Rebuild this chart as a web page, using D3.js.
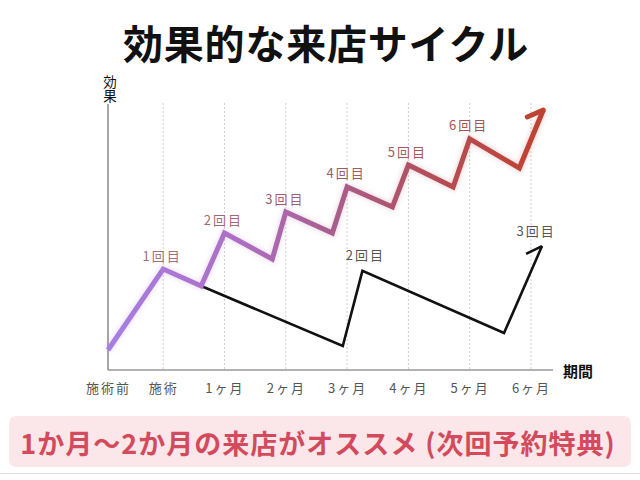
<!DOCTYPE html>
<html><head><meta charset="utf-8">
<script src="https://cdn.jsdelivr.net/npm/d3@7"></script>
<style>
body{margin:0;background:#fff;}
svg{display:block;font-family:"Noto Sans CJK JP","Noto Sans",sans-serif;}
</style></head><body>
<svg id="c" width="640" height="480"></svg>
<script>
// ---- data ----
const title = "効果的な来店サイクル";
const yLabel = ["効","果"];
const xLabel = "期間";
const tickLabels = ["施術前","施術","1ヶ月","2ヶ月","3ヶ月","4ヶ月","5ヶ月","6ヶ月"];
const tickValues = [-0.9, 0, 1, 2, 3, 4, 5, 6];
const gridValues = [0, 1, 2, 3, 4, 5, 6];
// recommended cycle (visit every 1 month)
const cycleX = [-0.9, 0, 0.62, 1, 1.78, 2, 2.76, 3, 3.74, 4, 4.73, 5, 5.81, 6.2];
const cycleY = [7.4, 37.4, 31.1, 50.7, 41.1, 58.5, 50.7, 67.8, 60.4, 75.9, 67.8, 85.6, 74.8, 96.3];
const cycleHead = [5.94, 93.7];
const cycleLabels = ["1回目","2回目","3回目","4回目","5回目","6回目"];
const cyclePeakIdx = [1, 3, 5, 7, 9, 11];
// slow cycle (visit every 3 months)
const slowX = [0.62, 2.93, 3.25, 5.56, 6.18];
const slowY = [31.1, 8.9, 36.7, 13.7, 45.9];
const slowHead = [5.92, 43.0];
const slowLabels = ["2回目","3回目"];
const slowPeakIdx = [2, 4];
const banner = "1か月〜2か月の来店がオススメ (次回予約特典)";

// ---- drawing ----
const svg = d3.select("#c");
const x = d3.scaleLinear().domain([-0.9, 6]).range([108, 531]);
const y = d3.scaleLinear().domain([0, 100]).range([370, 100]);

// title
svg.append("text").attr("x", 326).attr("y", 42)
  .attr("text-anchor","middle").attr("dominant-baseline","central")
  .attr("font-size", 40).attr("font-weight", 700).attr("fill","#111")
  .attr("letter-spacing","0.8px")
  .text(title);

// gridlines
svg.append("g").selectAll("line").data(gridValues).join("line")
  .attr("x1", d=>x(d)).attr("x2", d=>x(d))
  .attr("y1", 103).attr("y2", 370)
  .attr("stroke","#cfcfcf").attr("stroke-width",1).attr("stroke-dasharray","2,2");

// axes
const xAxis = d3.axisBottom(x).tickValues(tickValues).tickSize(0).tickFormat((d,i)=>tickLabels[i]);
const gx = svg.append("g").attr("transform","translate(0,370)").call(xAxis);
gx.select(".domain").remove();
gx.append("line").attr("x1",108).attr("x2",553).attr("y1",0).attr("y2",0)
  .attr("stroke","#999").attr("stroke-width",1.5);
gx.selectAll(".tick text").attr("dy",0).attr("y",17)
  .attr("dominant-baseline","central")
  .attr("font-size",13).attr("fill","#555").attr("letter-spacing","2px")
  .attr("font-family","\"Noto Sans CJK JP\",sans-serif");

svg.append("line").attr("x1",108).attr("x2",108).attr("y1",104).attr("y2",370)
  .attr("stroke","#888").attr("stroke-width",1.5);

// axis titles (vertical y label as one text element)
svg.append("text").attr("x",110).attr("y",89)
  .attr("writing-mode","vertical-rl").attr("text-anchor","middle")
  .attr("font-size",13.5).attr("fill","#111").text(yLabel.join(""));
svg.append("text").attr("x",578).attr("y",370)
  .attr("text-anchor","middle").attr("dominant-baseline","central")
  .attr("font-size",15).attr("font-weight",700).attr("fill","#111").text(xLabel);

// defs: gradient + glow
const defs = svg.append("defs");
const grad = defs.append("linearGradient").attr("id","g1")
  .attr("gradientUnits","userSpaceOnUse")
  .attr("x1", x(-0.9)).attr("x2", x(6.2)).attr("y1",0).attr("y2",0);
grad.append("stop").attr("offset","0%").attr("stop-color","#a77ee4");
grad.append("stop").attr("offset","30%").attr("stop-color","#ad6fc4");
grad.append("stop").attr("offset","50%").attr("stop-color","#a85f90");
grad.append("stop").attr("offset","75%").attr("stop-color","#b44d58");
grad.append("stop").attr("offset","100%").attr("stop-color","#bf4230");
const blur = defs.append("filter").attr("id","glow").attr("x","-10%").attr("y","-10%").attr("width","120%").attr("height","120%");
blur.append("feGaussianBlur").attr("stdDeviation",2.5);

const line = d3.line().x(d=>x(d[0])).y(d=>y(d[1]));
const cyclePts = cycleX.map((v,i)=>[v, cycleY[i]]);
const slowPts = slowX.map((v,i)=>[v, slowY[i]]);
const cycleTip = cyclePts[cyclePts.length-1];
const slowTip = slowPts[slowPts.length-1];

// slow cycle (black)
svg.append("path").attr("d", line(slowPts)).attr("fill","none")
  .attr("stroke","#111").attr("stroke-width",2.6).attr("stroke-linejoin","miter");
svg.append("path").attr("d", line([slowHead, slowTip])).attr("fill","none")
  .attr("stroke","#111").attr("stroke-width",2.6).attr("stroke-linecap","butt");

// recommended cycle (gradient) with glow
svg.append("path").attr("d", line(cyclePts)).attr("fill","none")
  .attr("stroke","url(#g1)").attr("stroke-width",7).attr("opacity",0.22)
  .attr("filter","url(#glow)");
svg.append("path").attr("d", line(cyclePts)).attr("fill","none")
  .attr("stroke","url(#g1)").attr("stroke-width",5).attr("stroke-linejoin","miter");
svg.append("path").attr("d", line([cycleHead, cycleTip])).attr("fill","none")
  .attr("stroke","url(#g1)").attr("stroke-width",5).attr("stroke-linecap","round");

// labels
const labColors = ["#a0707c","#a36878","#9e5e70","#a05c64","#a6585c","#a85256"];
svg.append("g").selectAll("text").data(cycleLabels).join("text")
  .attr("x",(d,i)=>x(cycleX[cyclePeakIdx[i]])-1)
  .attr("y",(d,i)=>y(cycleY[cyclePeakIdx[i]])-14)
  .attr("text-anchor","middle").attr("dominant-baseline","central")
  .attr("font-size",13).attr("letter-spacing","2px").attr("fill",(d,i)=>labColors[i])
  .text(d=>d);
svg.append("g").selectAll("text").data(slowLabels).join("text")
  .attr("x",(d,i)=>x(slowX[slowPeakIdx[i]])+(i===0?3:-6))
  .attr("y",(d,i)=>y(slowY[slowPeakIdx[i]])-16)
  .attr("text-anchor","middle").attr("dominant-baseline","central")
  .attr("font-size",13).attr("letter-spacing","2px").attr("fill","#555")
  .text(d=>d);

// banner
svg.append("rect").attr("x",9).attr("y",416).attr("width",622).attr("height",51)
  .attr("rx",7).attr("fill","#fbe6e9");
svg.append("text").attr("x",318).attr("y",442)
  .attr("text-anchor","middle").attr("dominant-baseline","central")
  .attr("font-size",27).attr("font-weight",700).attr("fill","#d24a5c")
  .attr("letter-spacing","1px")
  .text(banner);
svg.append("line").attr("x1",0).attr("x2",640).attr("y1",473.5).attr("y2",473.5)
  .attr("stroke","#e0e0e0").attr("stroke-width",1);
</script>
</body></html>
